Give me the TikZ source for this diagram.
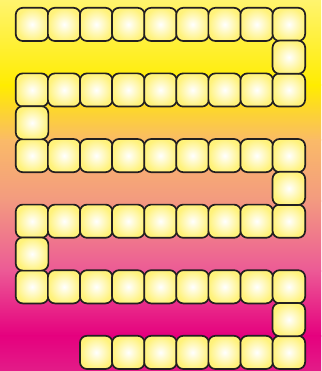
\documentclass[tikz,border=0pt]{standalone}
\definecolor{bgA}{HTML}{FFF46E}
\definecolor{bgB}{HTML}{FFEC00}
\definecolor{bgC}{HTML}{FABA68}
\definecolor{bgD}{HTML}{F39A80}
\definecolor{bgE}{HTML}{EC5A96}
\definecolor{bgF}{HTML}{E5007E}
\definecolor{bgG}{HTML}{E31C88}
\definecolor{tileY}{HTML}{FFF27A}
\definecolor{tileLine}{HTML}{231F20}
\begin{document}
\begin{tikzpicture}[x=1pt,y=-1pt,
  tile/.style={draw=tileLine, line width=1.7pt, rounded corners=7pt,
    minimum width=32.6pt, minimum height=33.2pt, inner sep=0pt,
    inner color=white, outer color=tileY}]
\useasboundingbox (0,0) rectangle (321,371);
% background gradient
\fill[top color=bgA, bottom color=bgB] (0,0) rectangle (321,86);
\fill[top color=bgB, bottom color=bgC] (0,85) rectangle (321,141);
\fill[top color=bgC, bottom color=bgD] (0,140) rectangle (321,201);
\fill[top color=bgD, bottom color=bgE] (0,200) rectangle (321,271);
\fill[top color=bgE, bottom color=bgF] (0,270) rectangle (321,336);
\fill[top color=bgF, bottom color=bgG] (0,335) rectangle (321,371);
% full rows
\foreach \r in {0,2,4,6,8}{
  \foreach \c in {0,...,8}{
    \node[tile] (t-\r-\c) at ({16+32.1*(\c+0.5)},{8+32.8*(\r+0.5)}) {};
  }
}
% last row
\foreach \c in {2,...,8}{
  \node[tile] (t-10-\c) at ({16+32.1*(\c+0.5)},{8+32.8*(10.5)}) {};
}
% single connecting tiles
\foreach \r/\c in {1/8,3/0,5/8,7/0,9/8}{
  \node[tile] (t-\r-\c) at ({16+32.1*(\c+0.5)},{8+32.8*(\r+0.5)}) {};
}
\end{tikzpicture}
\end{document}
